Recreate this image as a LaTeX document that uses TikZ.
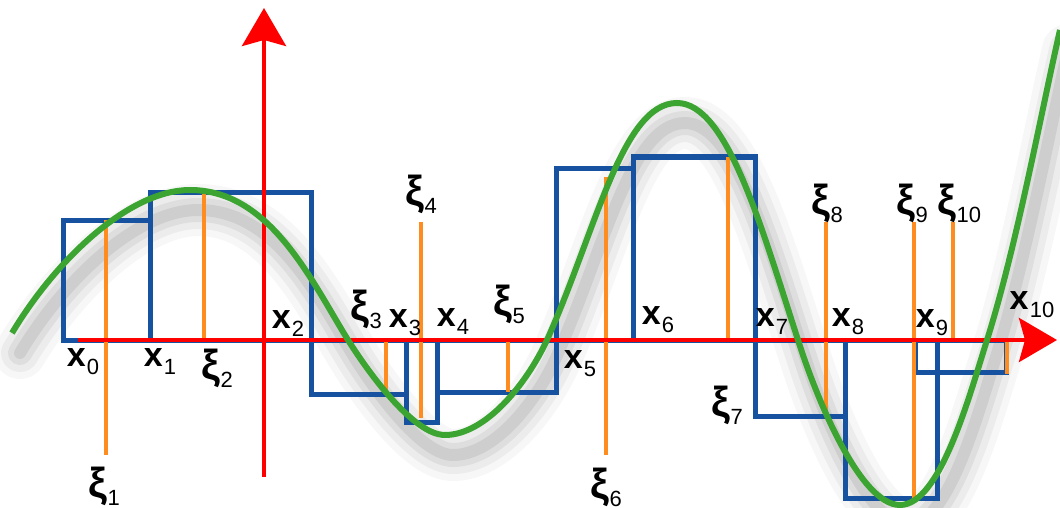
\documentclass[tikz,border=0pt]{standalone}
\usepackage{fontspec}
\setmainfont{Liberation Sans}
\usetikzlibrary{
    arrows.meta,
    positioning
}
\definecolor{rectblue}{RGB}{22,82,160}
\definecolor{tagorange}{RGB}{255,140,30}
\definecolor{curvegreen}{RGB}{60,165,50}
\definecolor{axisred}{RGB}{255,0,0}
\newcommand{\xsub}[1]{\textbf{x}\kern0.6pt\raisebox{-4pt}{\fontsize{11pt}{11pt}\selectfont #1}}
\newcommand{\xisub}[1]{{\fontsize{21pt}{21pt}\selectfont\textbf{ξ}}\kern0.4pt\raisebox{-4pt}{\fontsize{11pt}{11pt}\selectfont #1}}

\begin{document}
\begin{tikzpicture}[
    x=0.5pt,
    y=-0.5pt,
    lbl/.style={
        inner sep=0pt,
        font=\fontsize{17pt}{19pt}\selectfont
    },
    riemann/.style={
        draw=rectblue,
        line width=2.5pt
    },
    tagline/.style={
        draw=tagorange,
        line width=1.7pt
    },
    axisline/.style={
        draw=axisred,
        line width=2pt,
        -{Stealth[length=19pt, width=22pt, inset=3pt]}
    }
]

    \useasboundingbox (0,0) rectangle (1060,508);

    % -------------------------------------------------------
    % Function curve (path kept for the shadow)
    % -------------------------------------------------------
    \path[save path=\wavepath]
        (12,333) .. controls (57,258) and (130,190) .. (190,190)
        .. controls (270,190) and (311,280) .. (348,340)
        .. controls (372,378) and (415,435) .. (445,435)
        .. controls (485,435) and (526,385) .. (547,340)
        .. controls (596,231) and (622,103) .. (677,103)
        .. controls (727,103) and (761,226) .. (798,340)
        .. controls (816,397) and (860,505) .. (900,505)
        .. controls (940,505) and (969,397) .. (987,340)
        .. controls (1017,245) and (1042,108) .. (1060,30);

    % soft shadow under the curve
    \begin{scope}[transform canvas={xshift=4pt, yshift=-10pt}]
        \foreach \w/\o in {26/0.03, 19/0.045, 12/0.06, 6/0.07}
            \path[draw=black, opacity=\o, line width=\w pt,
                line cap=round, use path=\wavepath];
    \end{scope}

    % -------------------------------------------------------
    % Riemann rectangles
    % -------------------------------------------------------
    \draw[riemann] (63,340) rectangle (150,220);
    \draw[riemann] (150,340) rectangle (311,192);
    \draw[riemann] (311,340) rectangle (406,394);
    \draw[riemann] (406,340) rectangle (437,422);
    \draw[riemann] (437,340) rectangle (556,392);
    \draw[riemann] (556,340) rectangle (633,168);
    \draw[riemann] (633,340) rectangle (755,157);
    \draw[riemann] (755,340) rectangle (845,416);
    \draw[riemann] (845,340) rectangle (937,498);
    \draw[riemann] (915,340) rectangle (1006,372);

    % -------------------------------------------------------
    % Sample points
    % -------------------------------------------------------
    \draw[tagline] (106,220) -- (106,455);
    \draw[tagline] (204,192) -- (204,340);
    \draw[tagline] (386,340) -- (386,392);
    \draw[tagline] (421,222) -- (421,418);
    \draw[tagline] (508,340) -- (508,392);
    \draw[tagline] (606,177) -- (606,455);
    \draw[tagline] (728,157) -- (728,340);
    \draw[tagline] (826,222) -- (826,414);
    \draw[tagline] (914,222) -- (914,498);
    \draw[tagline] (953,222) -- (953,340);
    \draw[tagline] (1007,340) -- (1007,374);

    % -------------------------------------------------------
    % Axes
    % -------------------------------------------------------
    \draw[axisline] (78,340) -- (1057,340);
    \draw[axisline] (264,477) -- (264,8);

    % -------------------------------------------------------
    % Curve on top
    % -------------------------------------------------------
    \path[draw=curvegreen, line width=3pt, use path=\wavepath];

    % -------------------------------------------------------
    % Partition labels
    % -------------------------------------------------------
    \node[lbl] (x0) at (83,362) {\xsub{0}};
    \node[lbl] (x1) at (160,362) {\xsub{1}};
    \node[lbl] (x2) at (288,324) {\xsub{2}};
    \node[lbl] (x3) at (405,323) {\xsub{3}};
    \node[lbl] (x4) at (453,322) {\xsub{4}};
    \node[lbl] (x5) at (580,364) {\xsub{5}};
    \node[lbl] (x6) at (658,320) {\xsub{6}};
    \node[lbl] (x7) at (772,322) {\xsub{7}};
    \node[lbl] (x8) at (848,322) {\xsub{8}};
    \node[lbl] (x9) at (932,323) {\xsub{9}};
    \node[lbl] (x10) at (1032,305) {\xsub{10}};

    % -------------------------------------------------------
    % Sample labels
    % -------------------------------------------------------
    \node[lbl] (xi1) at (104,486) {\xisub{1}};
    \node[lbl] (xi2) at (217,368) {\xisub{2}};
    \node[lbl] (xi3) at (366,309) {\xisub{3}};
    \node[lbl] (xi4) at (421,194) {\xisub{4}};
    \node[lbl] (xi5) at (509,304) {\xisub{5}};
    \node[lbl] (xi6) at (606,487) {\xisub{6}};
    \node[lbl] (xi7) at (727,405) {\xisub{7}};
    \node[lbl] (xi8) at (827,203) {\xisub{8}};
    \node[lbl] (xi9) at (912,203) {\xisub{9}};
    \node[lbl] (xi10) at (959,203) {\xisub{10}};

\end{tikzpicture}
\end{document}
